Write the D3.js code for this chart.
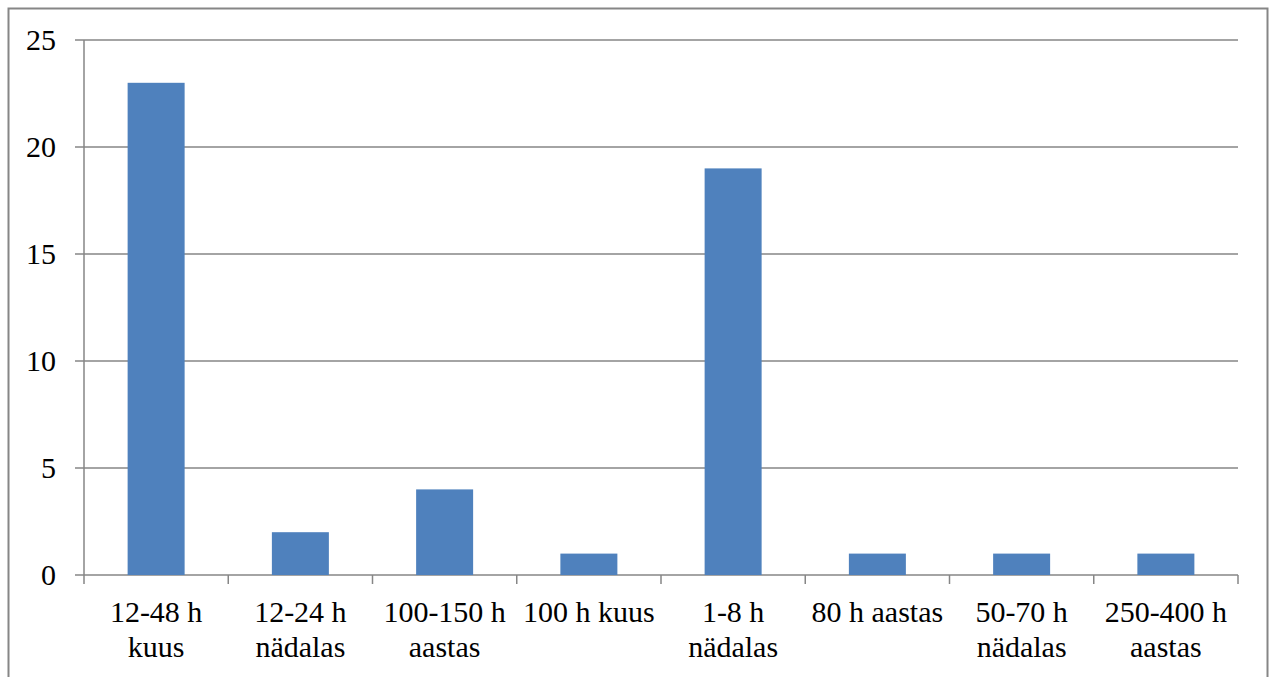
<!DOCTYPE html>
<html><head><meta charset="utf-8">
<script src="https://cdn.jsdelivr.net/npm/d3@7"></script>
<style>html,body{margin:0;padding:0;background:#fff;}svg{display:block;}</style>
</head><body>
<svg id="c" width="1272" height="677"></svg>
<script>
const categories = [["12-48 h","kuus"],["12-24 h","nädalas"],["100-150 h","aastas"],["100 h kuus"],["1-8 h","nädalas"],["80 h aastas"],["50-70 h","nädalas"],["250-400 h","aastas"]];
const values = [23, 2, 4, 1, 19, 1, 1, 1];
const yTicks = [0, 5, 10, 15, 20, 25];

const svg = d3.select("#c");
const font = "'Liberation Serif','Times New Roman',serif";
const grey = "#868686";
const L = 84, R = 1238, T = 40, B = 575;

svg.append("rect").attr("x", 8.5).attr("y", 8.5).attr("width", 1259).attr("height", 700)
  .attr("fill", "none").attr("stroke", grey).attr("stroke-width", 2);

const x = d3.scaleBand().domain(d3.range(categories.length)).range([L, R]);
const y = d3.scaleLinear().domain([0, 25]).range([B, T]);

// gridlines
svg.append("g").selectAll("line").data(yTicks).join("line")
  .attr("x1", L - 9).attr("x2", R).attr("y1", d => y(d)).attr("y2", d => y(d))
  .attr("stroke", grey).attr("stroke-width", 1.5);

// y axis line
svg.append("line").attr("x1", L).attr("x2", L).attr("y1", T).attr("y2", B)
  .attr("stroke", grey).attr("stroke-width", 1.5);

// y labels
svg.append("g").selectAll("text").data(yTicks).join("text")
  .attr("x", 56).attr("y", d => y(d) + 10).attr("text-anchor", "end")
  .attr("font-family", font).attr("font-size", 30).attr("fill", "#000").text(d => d);

// bars
const bw = 57;
svg.append("g").selectAll("rect").data(values).join("rect")
  .attr("x", (d, i) => x(i) + x.bandwidth() / 2 - bw / 2)
  .attr("width", bw)
  .attr("y", d => y(d)).attr("height", d => B - y(d))
  .attr("fill", "#4F81BD");

// x axis ticks
const bounds = d3.range(categories.length + 1).map(i => L + i * x.bandwidth());
svg.append("g").selectAll("line").data(bounds).join("line")
  .attr("x1", d => d).attr("x2", d => d).attr("y1", B).attr("y2", B + 9)
  .attr("stroke", grey).attr("stroke-width", 1.5);

// x labels
const xl = svg.append("g").selectAll("text").data(categories).join("text")
  .attr("text-anchor", "middle").attr("font-family", font).attr("font-size", 30).attr("fill", "#000");
xl.each(function(d, i) {
  const t = d3.select(this);
  d.forEach((line, j) => {
    t.append("tspan").attr("x", x(i) + x.bandwidth() / 2).attr("y", 622 + j * 35).text(line);
  });
});
</script>
</body></html>
